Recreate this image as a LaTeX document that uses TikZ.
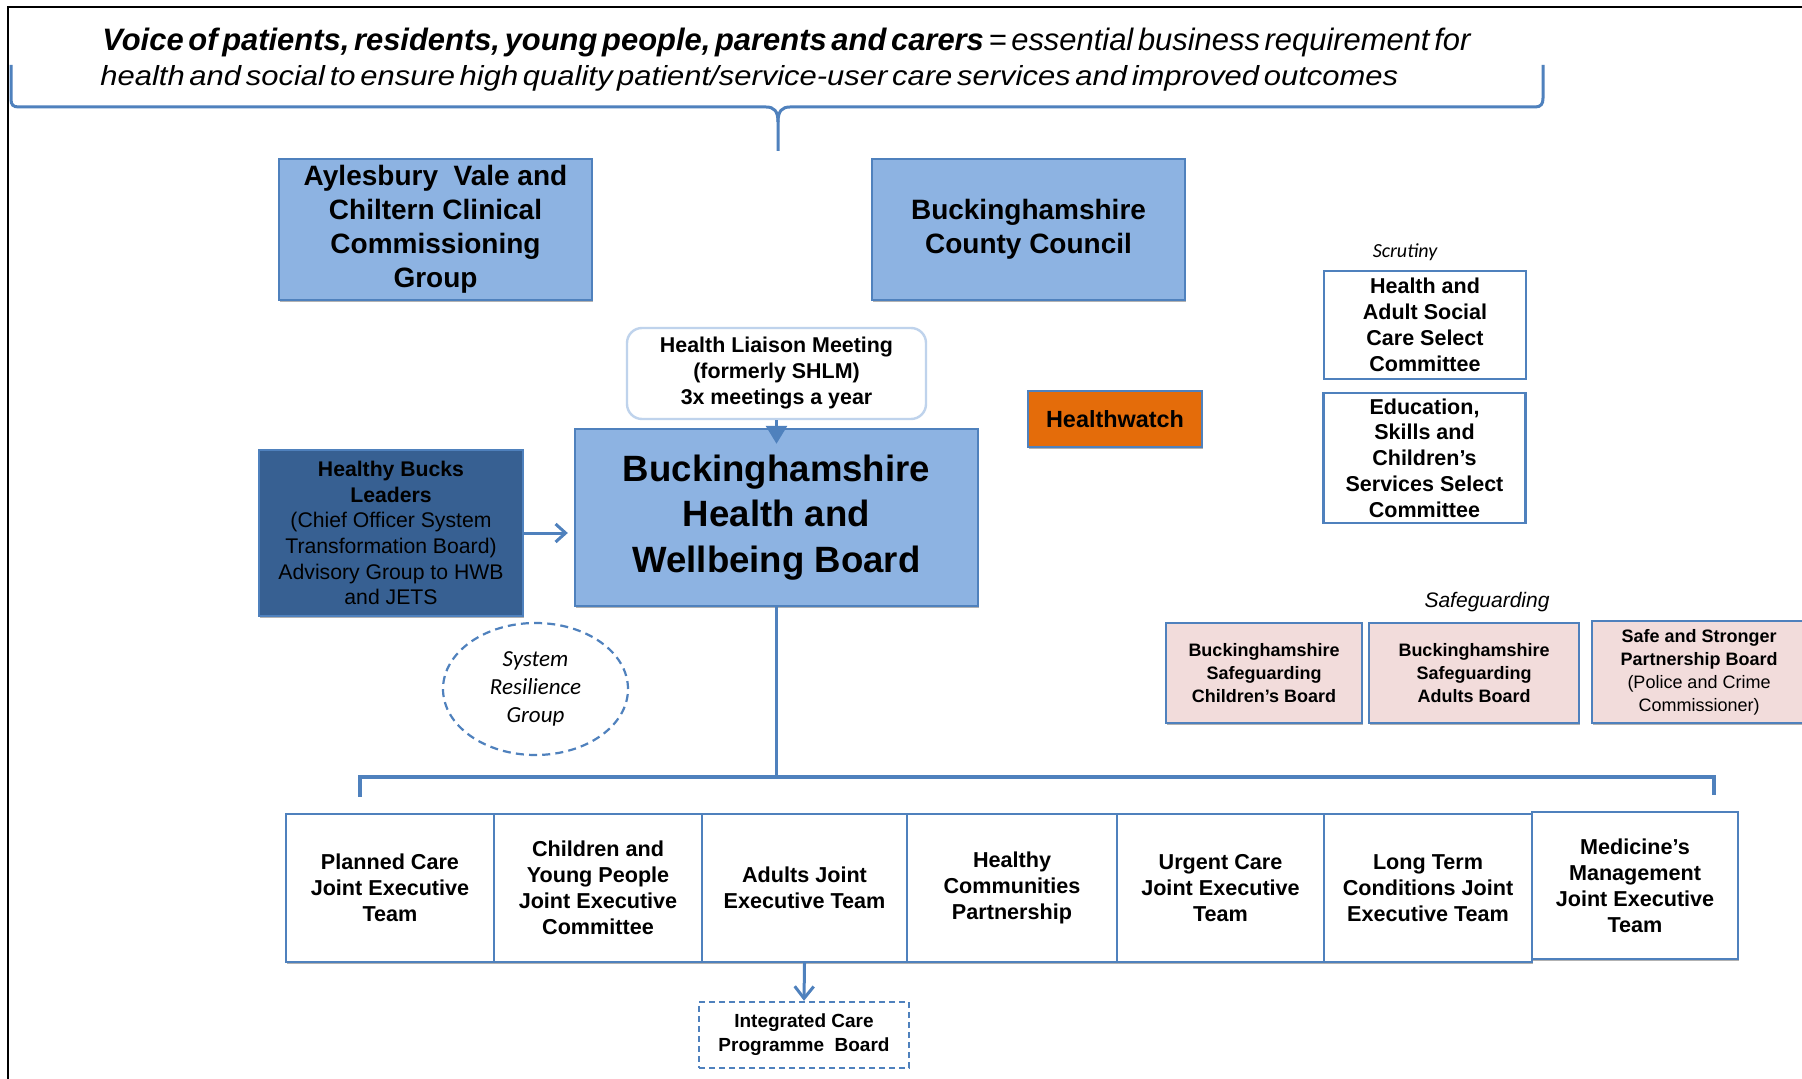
\documentclass[tikz,border=0pt]{standalone}
\usepackage{fontspec}
\usepackage{graphicx}
\setmainfont{Liberation Sans}
\newfontfamily\calib{Carlito}
\newfontfamily\headfont[WordSpace=0.55]{Liberation Sans}
\usetikzlibrary{arrows.meta,shapes.geometric,shadows}
\definecolor{lineblue}{HTML}{4F81BD}
\definecolor{boxfill}{HTML}{8DB3E2}
\definecolor{darkfill}{HTML}{376092}
\definecolor{orangefill}{HTML}{E46C0A}
\definecolor{pinkfill}{HTML}{F2DCDB}
\definecolor{paleblue}{HTML}{BFD3EC}
\tikzset{
  panel/.style={draw=lineblue, line width=1.2pt, align=center, inner sep=0pt},
  softshadow/.style={drop shadow={shadow xshift=0.4pt, shadow yshift=-1pt, opacity=0.3, fill=black}},
  orgbox/.style={panel, softshadow, fill=boxfill, minimum width=156.5pt, minimum height=70.5pt,
    font=\bfseries\fontsize{14}{17}\selectfont},
  liaison/.style={panel, draw=paleblue, rounded corners=7.5pt, fill=white,
    minimum width=149.5pt, minimum height=45.5pt, font=\bfseries\fontsize{10.7}{13}\selectfont},
  boardbox/.style={panel, softshadow, fill=boxfill, minimum width=201.5pt, minimum height=88.5pt,
    font=\bfseries\fontsize{18.3}{22.75}\selectfont},
  leaders/.style={panel, softshadow, fill=darkfill, minimum width=132pt, minimum height=83pt,
    font=\fontsize{10.6}{12.85}\selectfont},
  watch/.style={panel, softshadow, fill=orangefill, minimum width=87pt, minimum height=28pt,
    font=\bfseries\fontsize{11.7}{14}\selectfont},
  scrutbox/.style={panel, fill=white, minimum width=101pt, font=\bfseries\fontsize{10.75}{12.9}\selectfont},
  safebox/.style={panel, softshadow, fill=pinkfill, minimum height=50pt,
    font=\bfseries\fontsize{9}{11.5}\selectfont},
  jetbox/.style={panel, softshadow, fill=white, minimum height=74pt,
    font=\bfseries\fontsize{10.8}{13}\selectfont},
  programme/.style={panel, dash pattern=on 3pt off 2pt, fill=white, minimum width=105pt, minimum height=33pt,
    font=\bfseries\fontsize{9.5}{12}\selectfont},
  resil/.style={ellipse, draw=lineblue, line width=1.1pt, dash pattern=on 4pt off 2.6pt,
    minimum width=92.5pt, minimum height=66pt, inner sep=0pt, align=center,
    font=\calib\itshape\fontsize{11.5}{14}\selectfont},
  sectionlabel/.style={inner sep=0pt},
  busline/.style={draw=lineblue, line width=1.6pt},
  brace/.style={draw=lineblue, line width=1.5pt},
  arrowline/.style={draw=lineblue, line width=1.5pt},
}
\begin{document}
\begin{tikzpicture}[x=0.5pt,y=-0.5pt]
\useasboundingbox (0,0) rectangle (1802,1079);
\fill[white] (0,0) rectangle (1802,1079);

% page frame
\draw[black, line width=1pt] (8,1079) -- (8,7) -- (1802,7);

% heading
\node[sectionlabel, anchor=base west] (title1) at (102,51)
  {\headfont\fontsize{15.5}{18}\selectfont\itshape\resizebox{684pt}{\height}{\textbf{Voice of patients, residents, young people, parents and carers} = essential business requirement for}};
\node[sectionlabel, anchor=base west] (title2) at (100,86)
  {\headfont\fontsize{13.8}{16}\selectfont\itshape\resizebox{649pt}{\height}{health and social to ensure high quality patient/service-user care services and improved outcomes}};

% brace under the heading
\draw[brace] (11,65) -- (11,99) .. controls (11,105) and (13,107) .. (19,107) -- (766,107)
  .. controls (774,107) and (778,111) .. (778,122) -- (778,151);
\draw[brace] (778,122) .. controls (778,111) and (782,107) .. (790,107) -- (1535,107)
  .. controls (1541,107) and (1543,104) .. (1543,98) -- (1543,65);

% commissioners
\node[orgbox] (ccg) at (435.5,229.5) {Aylesbury\ \ Vale and\\Chiltern Clinical\\Commissioning\\Group};
\node[orgbox] (council) at (1028.5,229.5) {Buckinghamshire\\County Council};

% board and advisory groups
\node[liaison] (liaison) at (776.5,373.5) {Health Liaison Meeting\\(formerly SHLM)\\3x meetings a year};
\node[boardbox] (hwb) at (776.5,517.5) {Buckinghamshire\\Health and\\Wellbeing Board};
\node[leaders] (leaders) at (391,533) {\textbf{Healthy Bucks}\\\textbf{Leaders}\\(Chief Officer System\\Transformation Board)\\Advisory Group to HWB\\and JETS};
\node[watch] (watch) at (1115,419) {Healthwatch};
\node[resil] (resilience) at (535.5,689) {System\\Resilience\\Group};

\draw[arrowline, -{Triangle[length=9pt,width=10.5pt]}] (liaison.south) -- ([yshift=-8pt]hwb.north);
\draw[arrowline, -{Straight Barb[length=5pt,width=9pt]}, shorten >=3pt] (leaders.east) -- (leaders.east -| hwb.west);

% scrutiny
\node[sectionlabel, font=\calib\itshape\fontsize{10}{12}\selectfont] (scrutiny) at (1405,252) {Scrutiny};
\node[scrutbox, minimum height=54pt] (hasc) at (1425,325) {Health and\\Adult Social\\Care Select\\Committee};
\node[scrutbox, minimum height=65pt] (esc) at (1424.5,458) {Education,\\Skills and\\Children’s\\Services Select\\Committee};

% safeguarding
\node[sectionlabel, font=\itshape\fontsize{10.5}{12}\selectfont] (safeguarding) at (1487,602) {Safeguarding};
\node[safebox, minimum width=98pt] (bscb) at (1264,673) {Buckinghamshire\\Safeguarding\\Children’s Board};
\node[safebox, minimum width=105pt] (bsab) at (1474,673) {Buckinghamshire\\Safeguarding\\Adults Board};
\node[safebox, minimum width=107pt, minimum height=51pt] (sspb) at (1699,672) {Safe and Stronger\\Partnership Board\\\mdseries(Police and Crime\\\mdseries Commissioner)};

% joint executive teams
\node[jetbox, minimum width=104pt] (planned) at (390,888) {Planned Care\\Joint Executive\\Team};
\node[jetbox, minimum width=104pt] (children) at (598,888) {Children and\\Young People\\Joint Executive\\Committee};
\node[jetbox, minimum width=102.5pt] (adults) at (804.5,888) {Adults Joint\\Executive Team};
\node[jetbox, minimum width=105pt] (communities) at (1012,888) {Healthy\\Communities\\Partnership};
\node[jetbox, minimum width=103.5pt] (urgent) at (1220.5,888) {Urgent Care\\Joint Executive\\Team};
\node[jetbox, minimum width=104pt] (longterm) at (1428,888) {Long Term\\Conditions Joint\\Executive Team};
\node[jetbox, minimum width=103pt, minimum height=73.5pt] (medicines) at (1635,885.5) {Medicine’s\\Management\\Joint Executive\\Team};

\node[programme] (icpb) at (804,1035) {Integrated Care\\Programme\ \ Board};
\draw[arrowline, -{Straight Barb[length=6pt,width=9.5pt]}] (adults.south) -- (icpb.north);

% distribution bus from the board
\coordinate (busmid) at (776.5,777);
\coordinate (busleft) at (360,797);
\coordinate (busright) at (1714,795);
\draw[busline] (hwb.south) -- (busmid);
\draw[busline] (busmid) -| (busleft);
\draw[busline] (busmid) -| (busright);
\end{tikzpicture}
\end{document}
